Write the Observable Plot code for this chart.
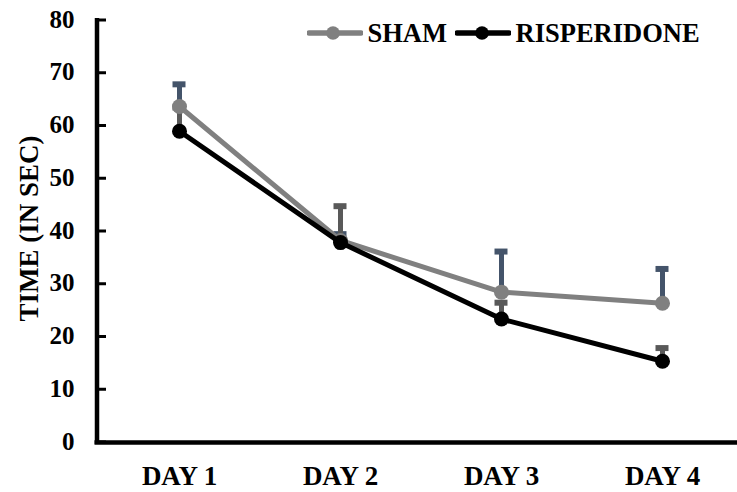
<!DOCTYPE html>
<html><head><meta charset="utf-8">
<script src="https://cdn.jsdelivr.net/npm/d3@7"></script>
<script src="https://cdn.jsdelivr.net/npm/@observablehq/plot@0.6"></script>
<style>
body{margin:0;background:#fff;}
#chart{position:relative;width:737px;height:492px;font-family:'Liberation Serif','Times New Roman',serif;font-weight:bold;}
#legend{position:absolute;left:307px;top:20px;display:flex;align-items:center;font-size:26.5px;line-height:26px;color:#000;font-family:'Liberation Serif','Times New Roman',serif;font-weight:bold;}
#legend .item{display:flex;align-items:center;margin-right:8px;}
#legend svg{display:block;margin-right:4.5px;}
</style></head><body><div id="chart"><div id="legend"></div></div>
<script>
const days = ["DAY 1", "DAY 2", "DAY 3", "DAY 4"];
const seriesNames = ["SHAM", "RISPERIDONE"];
const shamMean = [63.7, 38.3, 28.5, 26.4];
const shamUpper = [67.9, 39.5, 36.2, 32.9];
const rispMean = [59.0, 37.9, 23.4, 15.4];
const rispUpper = [63.5, 44.8, 26.5, 17.9];
const yTicks = [0, 10, 20, 30, 40, 50, 60, 70, 80];
const yTitle = "TIME (IN SEC)";

const lineColors = ["#808080", "#000000"];
const errColors = ["#44546A", "#595959"];

const shamRows = days.map((d, i) => ({day: d, value: shamMean[i], upper: shamUpper[i]}));
const rispRows = days.map((d, i) => ({day: d, value: rispMean[i], upper: rispUpper[i]}));

const W = 737, H = 492, ML = 97, MR = -7;
const tickLen = 9;
const font = "'Liberation Serif', 'Times New Roman', serif";

const yAxisFrame = (index, scales, values, dims) => {
  const ns = "http://www.w3.org/2000/svg";
  const g = document.createElementNS(ns, "g");
  const add = (x1, x2, y1, y2, sw) => {
    const l = document.createElementNS(ns, "line");
    l.setAttribute("x1", x1); l.setAttribute("x2", x2);
    l.setAttribute("y1", y1); l.setAttribute("y2", y2);
    l.setAttribute("stroke", "#000"); l.setAttribute("stroke-width", sw);
    g.appendChild(l);
  };
  add(dims.marginLeft, dims.marginLeft, scales.y(yTicks[yTicks.length - 1]) - 2, scales.y(0) + 2, 4.5);
  yTicks.forEach(t => add(dims.marginLeft, dims.marginLeft + tickLen, scales.y(t), scales.y(t), 3));
  return g;
};

const chart = Plot.plot({
  width: W,
  height: H,
  marginLeft: ML,
  marginRight: MR,
  marginTop: 20,
  marginBottom: 50,
  style: {fontFamily: font, fontWeight: "bold", background: "transparent"},
  x: {type: "point", domain: days, padding: 0.5},
  y: {domain: [0, 80]},
  marks: [
    Plot.ruleY([0], {stroke: "#000", strokeWidth: 4.5, insetLeft: -2.5}),
    yAxisFrame,
    Plot.axisY(yTicks, {tickSize: 0, tickPadding: 23, dy: -1, fontSize: 25, fill: "#000", label: null}),
    Plot.axisX(days, {tickSize: 0, tickPadding: 23, fontSize: 27, fill: "#000", label: null}),
    Plot.text([yTitle], {frameAnchor: "left", textAnchor: "middle", rotate: -90, dx: -68.5, dy: -3, fontSize: 27, fill: "#000"}),
    Plot.ruleX(shamRows, {x: "day", y1: "value", y2: "upper", stroke: errColors[0], strokeWidth: 5}),
    Plot.ruleY(shamRows, {x1: "day", x2: "day", y: "upper", stroke: errColors[0], strokeWidth: 6, insetLeft: -6.5, insetRight: -6.5}),
    Plot.ruleX(rispRows, {x: "day", y1: "value", y2: "upper", stroke: errColors[1], strokeWidth: 5}),
    Plot.ruleY(rispRows, {x1: "day", x2: "day", y: "upper", stroke: errColors[1], strokeWidth: 6, insetLeft: -6.5, insetRight: -6.5}),
    Plot.line(shamRows, {x: "day", y: "value", stroke: lineColors[0], strokeWidth: 5}),
    Plot.dot(shamRows, {x: "day", y: "value", r: 7.5, fill: lineColors[0]}),
    Plot.line(rispRows, {x: "day", y: "value", stroke: lineColors[1], strokeWidth: 5}),
    Plot.dot(rispRows, {x: "day", y: "value", r: 7.5, fill: lineColors[1]})
  ]
});
chart.style.overflow = "hidden";
document.getElementById("chart").appendChild(chart);

const legend = document.getElementById("legend");
const dotCx = [26, 27];
seriesNames.forEach((name, i) => {
  const item = document.createElement("div");
  item.className = "item";
  item.innerHTML = `<svg width="56" height="20"><line x1="2" x2="54" y1="10" y2="10" stroke="${lineColors[i]}" stroke-width="5.5" stroke-linecap="round"/><circle cx="${dotCx[i]}" cy="10" r="6.8" fill="${lineColors[i]}"/></svg><span>${name}</span>`;
  legend.appendChild(item);
});
</script>
</body></html>
